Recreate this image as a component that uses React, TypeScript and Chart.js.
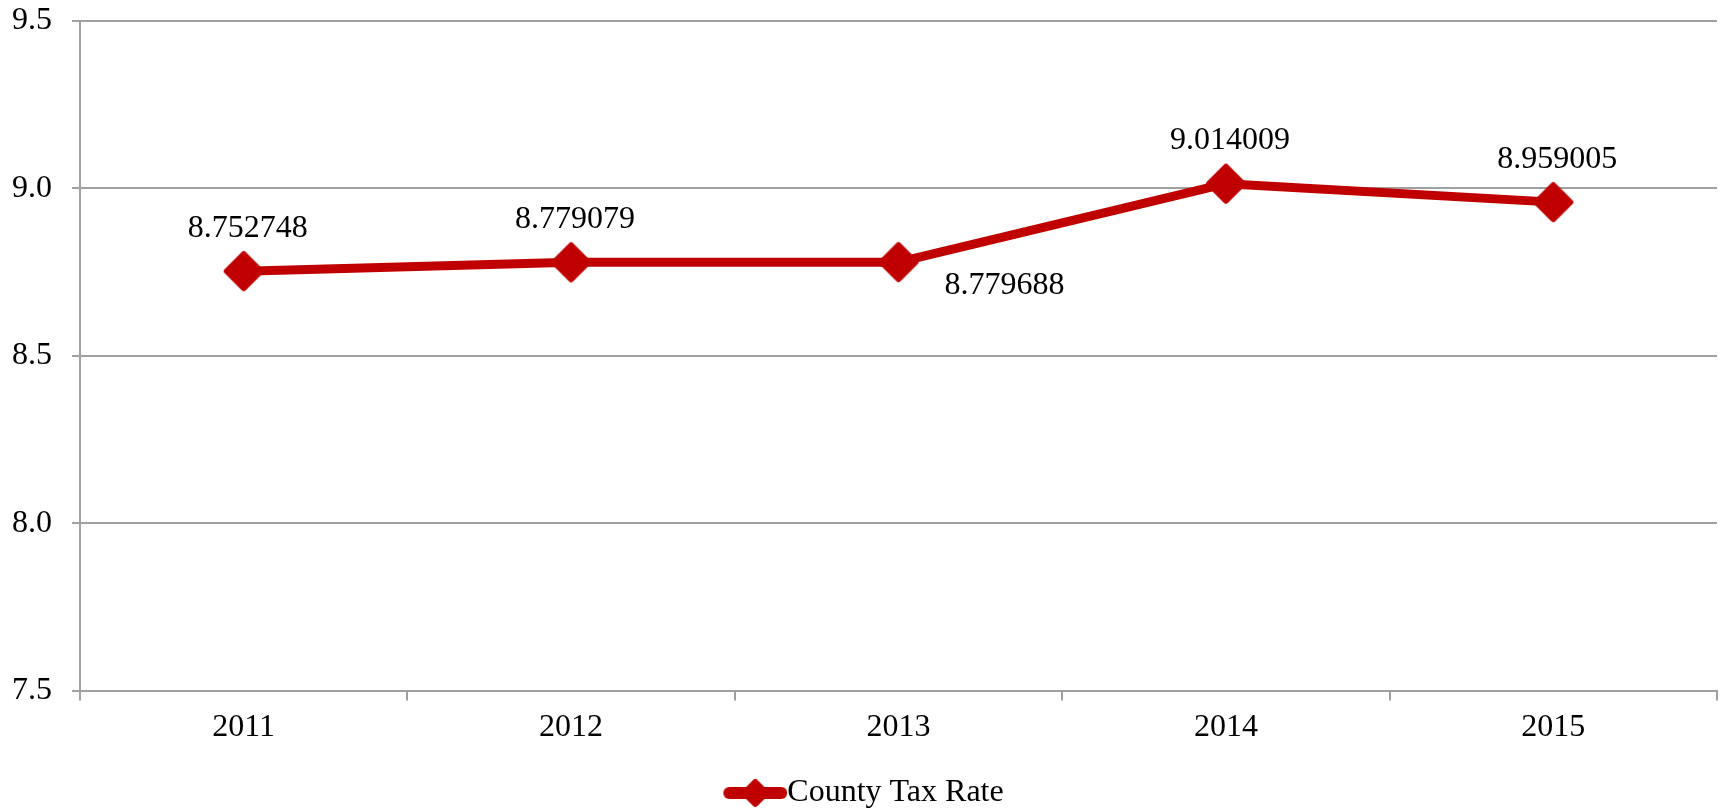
import React, { useEffect, useRef } from "react";
import { Chart, registerables } from "chart.js";

Chart.register(...registerables);

const categories = ["2011", "2012", "2013", "2014", "2015"];
const countyTaxRate = [8.752748, 8.779079, 8.779688, 9.014009, 8.959005];
const valueLabels = ["8.752748", "8.779079", "8.779688", "9.014009", "8.959005"];
const labelPlacement = ["above", "above", "belowRight", "above", "above"];
const yTicks = [7.5, 8.0, 8.5, 9.0, 9.5];
const seriesName = "County Tax Rate";

const RED = "#C00000";
const FONT = "'Liberation Serif', 'Times New Roman', serif";
const FS = 32;

function makeDiamond(half: number, stroke: number): HTMLCanvasElement {
  const size = Math.ceil((half + stroke) * 2);
  const c = document.createElement("canvas");
  c.width = size;
  c.height = size;
  const ctx = c.getContext("2d")!;
  const m = size / 2;
  ctx.fillStyle = RED;
  ctx.strokeStyle = RED;
  ctx.lineWidth = stroke;
  ctx.lineJoin = "round";
  ctx.beginPath();
  ctx.moveTo(m, m - half);
  ctx.lineTo(m + half, m);
  ctx.lineTo(m, m + half);
  ctx.lineTo(m - half, m);
  ctx.closePath();
  ctx.fill();
  ctx.stroke();
  return c;
}

function makeLegendIcon(): HTMLCanvasElement {
  const w = 90;
  const h = 34;
  const start = 26;
  const c = document.createElement("canvas");
  c.width = w;
  c.height = h;
  const ctx = c.getContext("2d")!;
  ctx.strokeStyle = RED;
  ctx.lineCap = "round";
  ctx.lineWidth = 12;
  ctx.beginPath();
  ctx.moveTo(start + 6, h / 2);
  ctx.lineTo(w - 6, h / 2);
  ctx.stroke();
  const d = makeDiamond(11, 6);
  const cx = (start + w) / 2;
  ctx.drawImage(d, cx - d.width / 2, h / 2 - d.height / 2);
  return c;
}

const dataLabelPlugin = {
  id: "dataLabels",
  afterDatasetsDraw(chart: any) {
    const meta = chart.getDatasetMeta(0);
    const ctx = chart.ctx;
    ctx.save();
    ctx.fillStyle = "#000000";
    ctx.font = `${FS}px ${FONT}`;
    ctx.textAlign = "center";
    ctx.textBaseline = "middle";
    meta.data.forEach((pt: any, i: number) => {
      let x = pt.x + 4;
      let y = pt.y - 43;
      if (labelPlacement[i] === "belowRight") {
        x = pt.x + 106;
        y = pt.y + 23;
      }
      ctx.fillText(valueLabels[i], x, y);
    });
    ctx.restore();
  },
};

export default function App() {
  const canvasRef = useRef<HTMLCanvasElement | null>(null);

  useEffect(() => {
    document.body.style.margin = "0";
    const marker = makeDiamond(17, 6);
    const legendIcon = makeLegendIcon();
    const chart = new Chart(canvasRef.current!, {
      type: "line",
      data: {
        labels: categories,
        datasets: [
          {
            label: seriesName,
            data: countyTaxRate,
            borderColor: RED,
            backgroundColor: RED,
            borderWidth: 9,
            borderJoinStyle: "round",
            borderCapStyle: "round",
            pointStyle: marker as any,
            pointRadius: 20,
            pointHoverRadius: 20,
            tension: 0,
          },
        ],
      },
      options: {
        responsive: false,
        animation: false,
        maintainAspectRatio: false,
        layout: { autoPadding: false, padding: { left: 0, right: 6, top: 0, bottom: -10 } },
        plugins: {
          tooltip: { enabled: false },
          legend: {
            position: "bottom",
            labels: {
              usePointStyle: true,
              pointStyleWidth: 58,
              color: "#000000",
              font: { family: FONT, size: FS },
              padding: 22,
              generateLabels: () => [
                {
                  text: seriesName,
                  pointStyle: legendIcon as any,
                  fillStyle: RED,
                  strokeStyle: RED,
                  lineWidth: 0,
                  hidden: false,
                  datasetIndex: 0,
                },
              ],
            },
          },
        },
        scales: {
          x: {
            offset: true,
            afterFit: (scale: any) => {
              scale.paddingLeft = 0;
              scale.paddingRight = 0;
            },
            grid: {
              offset: true,
              drawOnChartArea: false,
              drawTicks: true,
              tickLength: 10,
              color: "#A0A0A0",
              lineWidth: 2,
            },
            border: { color: "#A0A0A0", width: 2 },
            ticks: {
              color: "#000000",
              font: { family: FONT, size: FS },
              padding: 8,
              maxRotation: 0,
            },
          },
          y: {
            min: 7.5,
            max: 9.5,
            afterBuildTicks: (scale: any) => {
              scale.ticks = yTicks.map((v) => ({ value: v }));
            },
            afterFit: (scale: any) => {
              scale.width = 80;
              scale.paddingTop = 21;
              scale.paddingBottom = 0;
            },
            grid: {
              color: "#A0A0A0",
              lineWidth: 2,
              tickLength: 8,
            },
            border: { color: "#A0A0A0", width: 2 },
            ticks: {
              color: "#000000",
              font: { family: FONT, size: FS },
              padding: 20,
              callback: (v: any) => Number(v).toFixed(1),
            },
          },
        },
      },
      plugins: [dataLabelPlugin],
    });
    return () => chart.destroy();
  }, []);

  return (
    <div style={{ width: 1723, height: 809, position: "relative" }}>
      <canvas ref={canvasRef} width={1723} height={809} style={{ display: "block" }} />
    </div>
  );
}
